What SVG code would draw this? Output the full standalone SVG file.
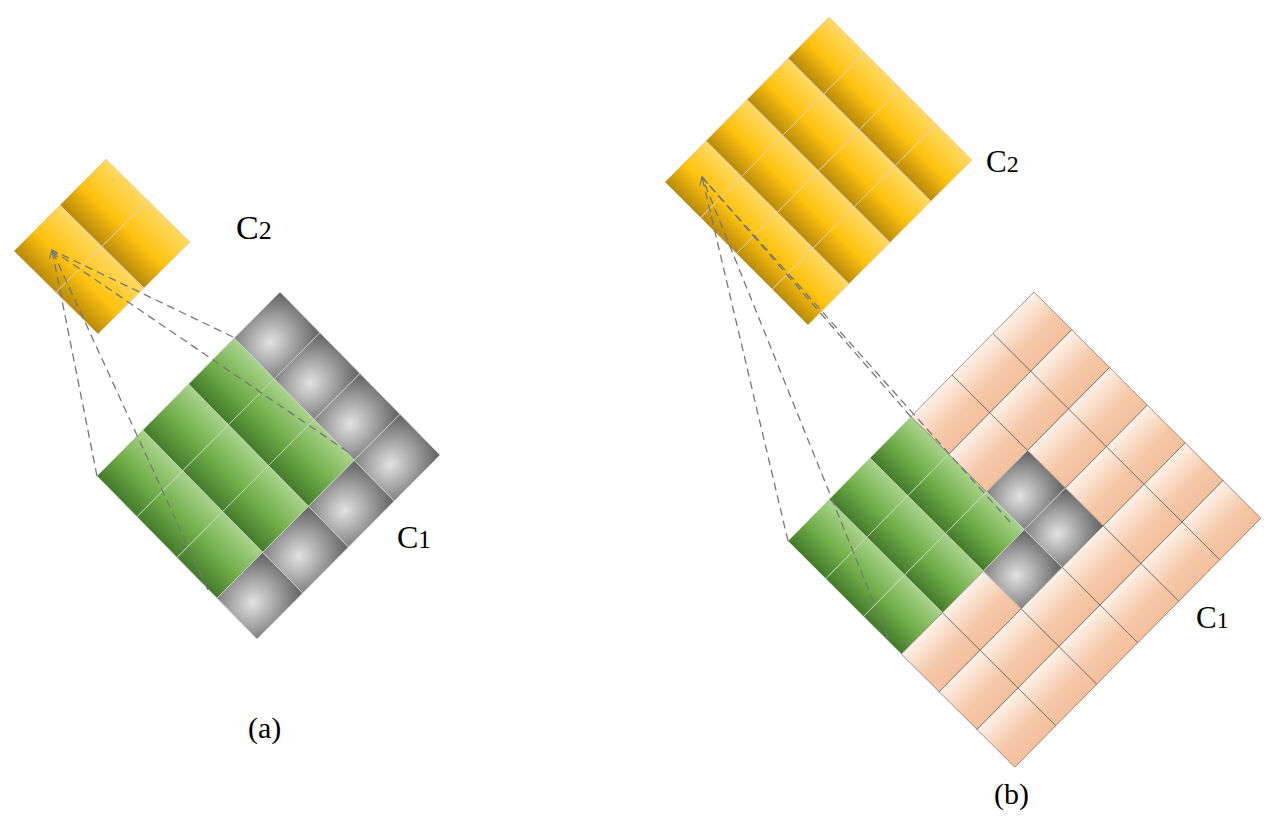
<svg xmlns="http://www.w3.org/2000/svg" width="1276" height="821" viewBox="0 0 1276 821">
<defs>
<linearGradient id="gy" x1="0" y1="0" x2="1" y2="0"><stop offset="0" stop-color="#b88a0a"/><stop offset="0.45" stop-color="#ffc20e"/><stop offset="1" stop-color="#ffd964"/></linearGradient>
<linearGradient id="gg" x1="0" y1="0" x2="1" y2="0"><stop offset="0" stop-color="#447a2c"/><stop offset="0.45" stop-color="#70ad47"/><stop offset="1" stop-color="#a9d48c"/></linearGradient>
<radialGradient id="gr" cx="0.35" cy="0.5" r="0.75"><stop offset="0" stop-color="#e2e2e2"/><stop offset="1" stop-color="#6a6a6a"/></radialGradient>
<linearGradient id="gp" x1="0" y1="0" x2="0" y2="1"><stop offset="0" stop-color="#fdf1e8"/><stop offset="0.6" stop-color="#f6c8a8"/><stop offset="1" stop-color="#f4c09c"/></linearGradient>
<marker id="ah" viewBox="0 0 10 10" refX="9" refY="5" markerWidth="10" markerHeight="10" markerUnits="userSpaceOnUse" orient="auto"><path d="M1,1 L9,5 L1,9" fill="none" stroke="#777" stroke-width="1.3"/></marker>
</defs>
<style>
rect{vector-effect:non-scaling-stroke}
.y{fill:url(#gy);stroke:#d8d0c0;stroke-width:0.8}
.g{fill:url(#gg);stroke:#c8d8c0;stroke-width:0.8}
.r{fill:url(#gr);stroke:#d0d0d0;stroke-width:0.8}
.p{fill:url(#gp);stroke:#333;stroke-width:0.5}
.c line{stroke:#777;stroke-width:1.3;stroke-dasharray:8 5;fill:none}
text{font-family:"Liberation Serif","Times New Roman",serif;fill:#000}
</style>
<g id="a-c2" transform="matrix(46,-46,42,41.5,14,251)">
<rect class="y" x="0" y="0" width="1" height="1"/><rect class="y" x="1" y="0" width="1" height="1"/>
<rect class="y" x="0" y="1" width="1" height="1"/><rect class="y" x="1" y="1" width="1" height="1"/>
</g>
<g id="a-c1" transform="matrix(45.75,-46,40,40.75,97,476)">
<rect class="g" x="0" y="0" width="1" height="1"/><rect class="g" x="1" y="0" width="1" height="1"/><rect class="g" x="2" y="0" width="1" height="1"/><rect class="r" x="3" y="0" width="1" height="1"/>
<rect class="g" x="0" y="1" width="1" height="1"/><rect class="g" x="1" y="1" width="1" height="1"/><rect class="g" x="2" y="1" width="1" height="1"/><rect class="r" x="3" y="1" width="1" height="1"/>
<rect class="g" x="0" y="2" width="1" height="1"/><rect class="g" x="1" y="2" width="1" height="1"/><rect class="g" x="2" y="2" width="1" height="1"/><rect class="r" x="3" y="2" width="1" height="1"/>
<rect class="r" x="0" y="3" width="1" height="1"/><rect class="r" x="1" y="3" width="1" height="1"/><rect class="r" x="2" y="3" width="1" height="1"/><rect class="r" x="3" y="3" width="1" height="1"/>
</g>
<g id="b-c2" transform="matrix(41,-41.25,35.75,35.75,665,182)">
<rect class="y" x="0" y="0" width="1" height="1"/><rect class="y" x="1" y="0" width="1" height="1"/><rect class="y" x="2" y="0" width="1" height="1"/><rect class="y" x="3" y="0" width="1" height="1"/>
<rect class="y" x="0" y="1" width="1" height="1"/><rect class="y" x="1" y="1" width="1" height="1"/><rect class="y" x="2" y="1" width="1" height="1"/><rect class="y" x="3" y="1" width="1" height="1"/>
<rect class="y" x="0" y="2" width="1" height="1"/><rect class="y" x="1" y="2" width="1" height="1"/><rect class="y" x="2" y="2" width="1" height="1"/><rect class="y" x="3" y="2" width="1" height="1"/>
<rect class="y" x="0" y="3" width="1" height="1"/><rect class="y" x="1" y="3" width="1" height="1"/><rect class="y" x="2" y="3" width="1" height="1"/><rect class="y" x="3" y="3" width="1" height="1"/>
</g>
<g id="b-c1" transform="matrix(41,-41.5,37.8,37.7,788,541)">
<rect class="g" x="0" y="0" width="1" height="1"/><rect class="g" x="1" y="0" width="1" height="1"/><rect class="g" x="2" y="0" width="1" height="1"/><rect class="p" x="3" y="0" width="1" height="1"/><rect class="p" x="4" y="0" width="1" height="1"/><rect class="p" x="5" y="0" width="1" height="1"/>
<rect class="g" x="0" y="1" width="1" height="1"/><rect class="g" x="1" y="1" width="1" height="1"/><rect class="g" x="2" y="1" width="1" height="1"/><rect class="p" x="3" y="1" width="1" height="1"/><rect class="p" x="4" y="1" width="1" height="1"/><rect class="p" x="5" y="1" width="1" height="1"/>
<rect class="g" x="0" y="2" width="1" height="1"/><rect class="g" x="1" y="2" width="1" height="1"/><rect class="g" x="2" y="2" width="1" height="1"/><rect class="r" x="3" y="2" width="1" height="1"/><rect class="p" x="4" y="2" width="1" height="1"/><rect class="p" x="5" y="2" width="1" height="1"/>
<rect class="p" x="0" y="3" width="1" height="1"/><rect class="p" x="1" y="3" width="1" height="1"/><rect class="r" x="2" y="3" width="1" height="1"/><rect class="r" x="3" y="3" width="1" height="1"/><rect class="p" x="4" y="3" width="1" height="1"/><rect class="p" x="5" y="3" width="1" height="1"/>
<rect class="p" x="0" y="4" width="1" height="1"/><rect class="p" x="1" y="4" width="1" height="1"/><rect class="p" x="2" y="4" width="1" height="1"/><rect class="p" x="3" y="4" width="1" height="1"/><rect class="p" x="4" y="4" width="1" height="1"/><rect class="p" x="5" y="4" width="1" height="1"/>
<rect class="p" x="0" y="5" width="1" height="1"/><rect class="p" x="1" y="5" width="1" height="1"/><rect class="p" x="2" y="5" width="1" height="1"/><rect class="p" x="3" y="5" width="1" height="1"/><rect class="p" x="4" y="5" width="1" height="1"/><rect class="p" x="5" y="5" width="1" height="1"/>
</g>
<g id="connectors" class="c">
<line x1="97" y1="476" x2="52" y2="250" marker-end="url(#ah)"/>
<line x1="208" y1="590" x2="52" y2="250"/>
<line x1="233" y1="337" x2="52" y2="250"/>
<line x1="348" y1="452" x2="52" y2="250"/>
<line x1="788" y1="541" x2="702" y2="177" marker-end="url(#ah)"/>
<line x1="888" y1="638" x2="702" y2="177"/>
<line x1="911" y1="417" x2="702" y2="177"/>
<line x1="1010" y1="522" x2="702" y2="177"/>
</g>
<g id="labels">
<text x="236" y="239" font-size="34">C<tspan font-size="26">2</tspan></text>
<text x="397" y="548" font-size="32">C<tspan font-size="25">1</tspan></text>
<text x="986" y="172" font-size="31">C<tspan font-size="24">2</tspan></text>
<text x="1196" y="628" font-size="31">C<tspan font-size="24">1</tspan></text>
<text x="248" y="738" font-size="30">(a)</text>
<text x="994" y="804" font-size="30">(b)</text>
</g>
</svg>
